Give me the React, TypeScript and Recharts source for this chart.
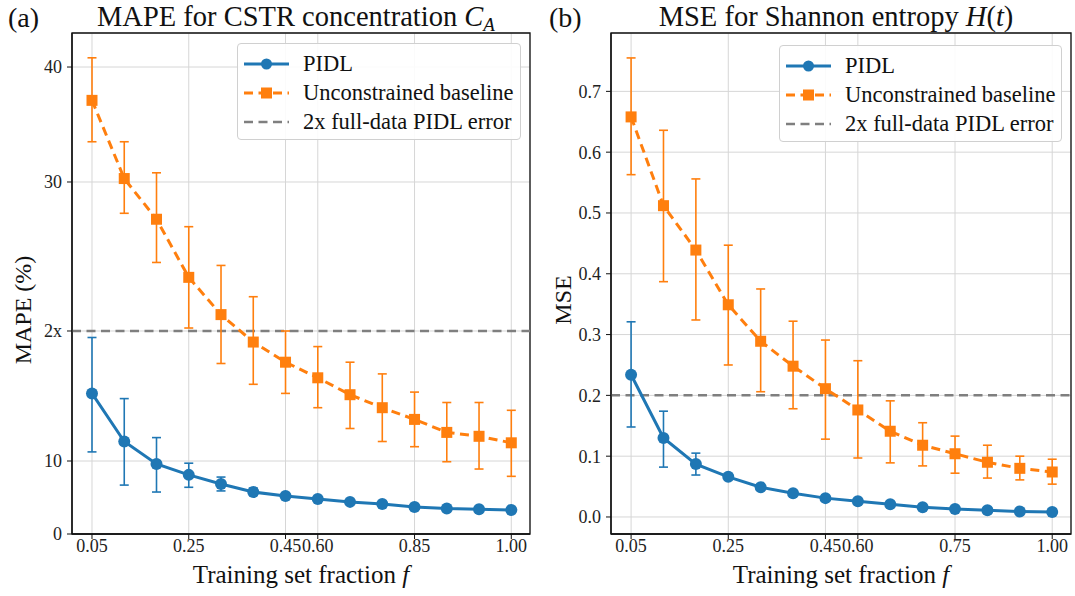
import React from "react";
import {
  LineChart,
  Line,
  XAxis,
  YAxis,
  CartesianGrid,
  ErrorBar,
  ReferenceLine,
  ReferenceArea,
  Legend,
} from "recharts";

const FONT = '"Liberation Serif", "Times New Roman", serif';
const BLUE = "#1f77b4";
const ORANGE = "#ff7f0e";
const GREY = "#7f7f7f";

// 14 training-set fractions, evenly spaced from 0.05 to 1.00
const POINT_INDEX = [0, 1, 2, 3, 4, 5, 6, 7, 8, 9, 10, 11, 12, 13];
const X_TICKS = [0, 3, 6, 7, 10, 13];
const X_LABELS_A = ["0.05", "0.25", "0.45", "0.60", "0.85", "1.00"];
const X_LABELS_B = ["0.05", "0.25", "0.45", "0.60", "0.75", "1.00"];

// (a) MAPE (%) for C_A
const mapePidl = [15.2, 11.5, 9.6, 8.1, 6.85, 5.75, 5.2, 4.8, 4.4, 4.1, 3.7, 3.5, 3.4, 3.3];
const mapePidlLo = [10.7, 6.7, 5.75, 6.4, 5.9, 5.3, 5.2, 4.8, 4.4, 4.1, 3.7, 3.5, 3.4, 3.3];
const mapePidlHi = [19.5, 14.8, 11.8, 9.7, 7.8, 6.3, 5.2, 4.8, 4.4, 4.1, 3.7, 3.5, 3.4, 3.3];
const mapeBase = [37.1, 30.3, 27.5, 23.6, 21.1, 19.15, 17.6, 16.4, 15.1, 14.1, 13.2, 12.2, 11.9, 11.4];
const mapeBaseLo = [33.5, 27.9, 24.6, 20.2, 17.5, 15.9, 15.2, 14.1, 12.5, 11.5, 11.1, 9.9, 8.9, 7.9];
const mapeBaseHi = [40.8, 33.5, 30.8, 27.0, 24.4, 22.3, 20.0, 18.8, 17.6, 16.7, 15.3, 14.5, 14.5, 13.9];
const MAPE_REF = 20;

// the MAPE axis is uneven: where each tick sits, as a fraction of the plot height
const MAPE_TICKS = [0, 10, 20, 30, 40];
const MAPE_TICK_LABELS = ["0", "10", "2x", "30", "40"];
const MAPE_TICK_POS = [0, 0.1457, 0.4052, 0.7026, 0.9321];

// (b) MSE for H(t)
const msePidl = [0.234, 0.13, 0.087, 0.066, 0.049, 0.039, 0.031, 0.026, 0.021, 0.016, 0.013, 0.011, 0.009, 0.008];
const msePidlLo = [0.148, 0.082, 0.069, 0.066, 0.049, 0.039, 0.031, 0.026, 0.021, 0.016, 0.013, 0.011, 0.009, 0.008];
const msePidlHi = [0.321, 0.174, 0.105, 0.066, 0.049, 0.039, 0.031, 0.026, 0.021, 0.016, 0.013, 0.011, 0.009, 0.008];
const mseBase = [0.658, 0.512, 0.439, 0.349, 0.289, 0.248, 0.211, 0.176, 0.141, 0.118, 0.104, 0.09, 0.08, 0.074];
const mseBaseLo = [0.563, 0.387, 0.324, 0.25, 0.206, 0.178, 0.128, 0.097, 0.089, 0.084, 0.072, 0.064, 0.061, 0.054];
const mseBaseHi = [0.755, 0.636, 0.556, 0.447, 0.375, 0.322, 0.291, 0.257, 0.191, 0.155, 0.133, 0.118, 0.1, 0.095];
const MSE_TICKS = [0, 0.1, 0.2, 0.3, 0.4, 0.5, 0.6, 0.7];
const MSE_REF = 0.2;

const X_DOMAIN = [-0.62, 13.58];

// piecewise-linear map from MAPE value to position on the uneven axis
function warp(v: number): number {
  let i = 0;
  while (i < MAPE_TICKS.length - 2 && v > MAPE_TICKS[i + 1]) i++;
  const t = (v - MAPE_TICKS[i]) / (MAPE_TICKS[i + 1] - MAPE_TICKS[i]);
  return MAPE_TICK_POS[i] + t * (MAPE_TICK_POS[i + 1] - MAPE_TICK_POS[i]);
}

const dataA = POINT_INDEX.map((i) => ({
  idx: i,
  pidl: warp(mapePidl[i]),
  pidlErr: [warp(mapePidl[i]) - warp(mapePidlLo[i]), warp(mapePidlHi[i]) - warp(mapePidl[i])],
  base: warp(mapeBase[i]),
  baseErr: [warp(mapeBase[i]) - warp(mapeBaseLo[i]), warp(mapeBaseHi[i]) - warp(mapeBase[i])],
}));

const dataB = POINT_INDEX.map((i) => ({
  idx: i,
  pidl: msePidl[i],
  pidlErr: [msePidl[i] - msePidlLo[i], msePidlHi[i] - msePidl[i]],
  base: mseBase[i],
  baseErr: [mseBase[i] - mseBaseLo[i], mseBaseHi[i] - mseBase[i]],
}));

const tickStyle = { fontFamily: FONT, fontSize: 18, fill: "#222" };

function Square(props: any) {
  const { cx, cy, index } = props;
  if (cx == null || cy == null) return <g key={index} />;
  return <rect key={index} x={cx - 5.5} y={cy - 5.5} width={11} height={11} fill={ORANGE} />;
}

function LegendBox() {
  const row = { display: "flex", alignItems: "center", height: 29 };
  return (
    <div
      style={{
        boxSizing: "border-box",
        height: 97,
        border: "1px solid #d0d0d0",
        borderRadius: 4,
        background: "rgba(255,255,255,0.9)",
        fontFamily: FONT,
        fontSize: 22.5,
        color: "#111",
        padding: "5px 0 0 6px",
        whiteSpace: "nowrap",
      }}
    >
      <div style={row}>
        <svg width={59} height={20}>
          <line x1={0} y1={10} x2={45} y2={10} stroke={BLUE} strokeWidth={3} />
          <circle cx={22.5} cy={10} r={5.5} fill={BLUE} />
        </svg>
        <span>PIDL</span>
      </div>
      <div style={row}>
        <svg width={59} height={20}>
          <line x1={0} y1={10} x2={45} y2={10} stroke={ORANGE} strokeWidth={3} strokeDasharray="9 5.5" />
          <rect x={17} y={4.5} width={11} height={11} fill={ORANGE} />
        </svg>
        <span>Unconstrained baseline</span>
      </div>
      <div style={row}>
        <svg width={59} height={20}>
          <line x1={0} y1={10} x2={45} y2={10} stroke={GREY} strokeWidth={2.5} strokeDasharray="9 5.5" />
        </svg>
        <span>2x full-data PIDL error</span>
      </div>
    </div>
  );
}

function XLabel(props: any) {
  const { viewBox } = props;
  return (
    <text x={viewBox.x + viewBox.width / 2} y={viewBox.y + 49} textAnchor="middle" fontFamily={FONT} fontSize={25} fill="#111">
      Training set fraction <tspan fontStyle="italic">f</tspan>
    </text>
  );
}

function YLabel(props: any) {
  const { viewBox, text, centerY } = props;
  const x = viewBox.x + 31;
  return (
    <text x={x} y={centerY} transform={`rotate(-90 ${x} ${centerY})`} textAnchor="middle" fontFamily={FONT} fontSize={24} fill="#111">
      {text}
    </text>
  );
}

function Panel(props: {
  data: any[];
  width: number;
  yWidth: number;
  right: number;
  yDomain: number[];
  yTicks: number[];
  yFormat: (v: number) => string;
  xLabels: string[];
  refY: number;
  yLabel: string;
  yLabelCenter: number;
  legendLeft: number;
  legendTop: number;
  legendWidth: number;
}) {
  const p = props;
  return (
    <LineChart width={p.width} height={596} data={p.data} margin={{ top: 33, right: p.right, bottom: 0, left: 0 }}>
      <CartesianGrid stroke="#d6d6d6" strokeWidth={1} />
      <XAxis
        dataKey="idx"
        type="number"
        domain={X_DOMAIN}
        ticks={X_TICKS}
        interval={0}
        allowDataOverflow
        height={62}
        tickFormatter={(v: number) => p.xLabels[X_TICKS.indexOf(v)] ?? ""}
        tick={tickStyle}
        tickSize={5}
        tickMargin={0}
        axisLine={{ stroke: "#111", strokeWidth: 1.3 }}
        tickLine={{ stroke: "#111" }}
        label={<XLabel />}
      />
      <YAxis
        type="number"
        domain={p.yDomain}
        ticks={p.yTicks}
        interval={0}
        allowDataOverflow
        width={p.yWidth}
        tickFormatter={p.yFormat}
        tick={tickStyle}
        tickSize={5}
        tickMargin={5}
        axisLine={{ stroke: "#111", strokeWidth: 1.3 }}
        tickLine={{ stroke: "#111" }}
        label={<YLabel text={p.yLabel} centerY={p.yLabelCenter} />}
      />
      <ReferenceArea
        x1={X_DOMAIN[0]}
        x2={X_DOMAIN[1]}
        y1={p.yDomain[0]}
        y2={p.yDomain[1]}
        fill="none"
        stroke="#111"
        strokeWidth={1.3}
        ifOverflow="visible"
      />
      <ReferenceLine y={p.refY} stroke={GREY} strokeWidth={2.5} strokeDasharray="9 5.5" />
      <Line
        dataKey="pidl"
        stroke={BLUE}
        strokeWidth={3}
        dot={{ r: 6, fill: BLUE, stroke: BLUE, strokeWidth: 0 }}
        activeDot={false}
        isAnimationActive={false}
      >
        <ErrorBar dataKey="pidlErr" direction="y" width={4.5} stroke={BLUE} strokeWidth={1.6} />
      </Line>
      <Line
        dataKey="base"
        stroke={ORANGE}
        strokeWidth={3}
        strokeDasharray="9 5.5"
        dot={Square}
        activeDot={false}
        isAnimationActive={false}
      >
        <ErrorBar dataKey="baseErr" direction="y" width={4.5} stroke={ORANGE} strokeWidth={1.6} />
      </Line>
      <Legend
        layout="vertical"
        align="center"
        verticalAlign="middle"
        content={<LegendBox />}
        wrapperStyle={{ left: p.legendLeft, top: p.legendTop, width: p.legendWidth }}
      />
    </LineChart>
  );
}

export default function App() {
  return (
    <div style={{ position: "absolute", left: 0, top: 0, width: 1075, height: 596, background: "#fff" }}>
      <div style={{ position: "absolute", left: 0, top: 0 }}>
        <Panel
          data={dataA}
          width={540}
          yWidth={72}
          right={10}
          yDomain={[0, 1]}
          yTicks={MAPE_TICK_POS}
          yFormat={(v: number) => MAPE_TICK_LABELS[MAPE_TICK_POS.indexOf(v)] ?? ""}
          xLabels={X_LABELS_A}
          refY={warp(MAPE_REF)}
          yLabel="MAPE (%)"
          yLabelCenter={310}
          legendLeft={237}
          legendTop={43}
          legendWidth={284}
        />
      </div>
      <div style={{ position: "absolute", left: 540, top: 0 }}>
        <Panel
          data={dataB}
          width={535}
          yWidth={71}
          right={4}
          yDomain={[-0.028, 0.796]}
          yTicks={MSE_TICKS}
          yFormat={(v: number) => v.toFixed(1)}
          xLabels={X_LABELS_B}
          refY={MSE_REF}
          yLabel="MSE"
          yLabelCenter={300}
          legendLeft={239}
          legendTop={45}
          legendWidth={283}
        />
      </div>
      <svg width={1075} height={40} style={{ position: "absolute", left: 0, top: 0, pointerEvents: "none" }}>
        <text x={8} y={27} fontFamily={FONT} fontSize={28} fill="#111">(a)</text>
        <text x={296} y={26} textAnchor="middle" fontFamily={FONT} fontSize={28.5} fill="#111">
          MAPE for CSTR concentration <tspan fontStyle="italic">C</tspan>
          <tspan fontSize={19} dy={5} fontStyle="italic">A</tspan>
        </text>
        <text x={549} y={27} fontFamily={FONT} fontSize={28} fill="#111">(b)</text>
        <text x={836} y={26} textAnchor="middle" fontFamily={FONT} fontSize={28.5} fill="#111">
          MSE for Shannon entropy <tspan fontStyle="italic">H</tspan>(<tspan fontStyle="italic">t</tspan>)
        </text>
      </svg>
    </div>
  );
}
